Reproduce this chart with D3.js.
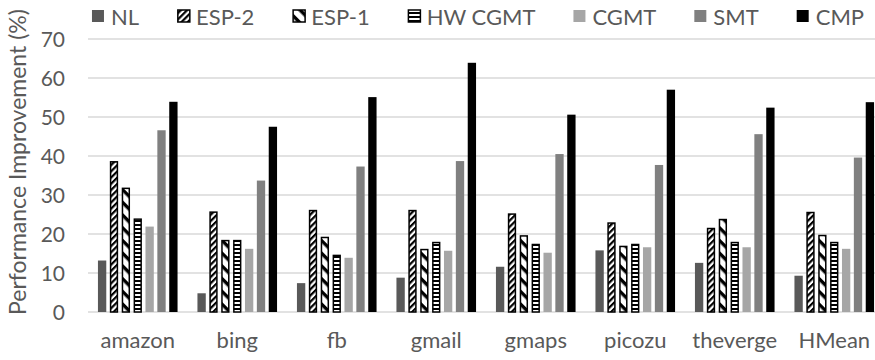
<!DOCTYPE html>
<html>
<head>
<meta charset="utf-8">
<script src="https://cdn.jsdelivr.net/npm/d3@7/dist/d3.min.js"></script>
<style>
  html, body { margin: 0; padding: 0; background: #fff; }
  svg { display: block; }
  text { font-family: Lato, "Open Sans", sans-serif; fill: #595959; }
</style>
</head>
<body>
<svg id="chart" width="875" height="360"></svg>
<script>
const categories = ["amazon", "bing", "fb", "gmail", "gmaps", "picozu", "theverge", "HMean"];
const seriesNames = ["NL", "ESP-2", "ESP-1", "HW CGMT", "CGMT", "SMT", "CMP"];
const NL      = [13.2, 4.8, 7.4, 8.8, 11.6, 15.8, 12.6, 9.3];
const ESP2    = [38.7, 25.8, 26.2, 26.2, 25.3, 23.0, 21.6, 25.7];
const ESP1    = [31.9, 18.5, 19.3, 16.2, 19.7, 17.0, 23.9, 19.8];
const HWCGMT  = [24.0, 18.5, 14.7, 18.0, 17.5, 17.5, 18.0, 18.0];
const CGMT    = [21.9, 16.2, 13.9, 15.7, 15.2, 16.6, 16.6, 16.2];
const SMT     = [46.6, 33.7, 37.3, 38.7, 40.5, 37.7, 45.6, 39.6];
const CMP     = [53.9, 47.5, 55.1, 63.9, 50.6, 57.0, 52.4, 53.8];
const yTicks  = [0, 10, 20, 30, 40, 50, 60, 70];
const yTitle  = "Performance Improvement (%)";

const seriesValues = [NL, ESP2, ESP1, HWCGMT, CGMT, SMT, CMP];
const fills = ["#595959", "url(#p-esp2)", "url(#p-esp1)", "url(#p-hw)", "#a6a6a6", "#808080", "#000000"];
const outlined = [false, true, true, true, false, false, false];

const svg = d3.select("#chart");
const W = 875, H = 360;
const plot = { left: 88, right: 884, top: 39, bottom: 312 };

// patterns
const defs = svg.append("defs");
function stripePattern(id, period, black, angle) {
  const p = defs.append("pattern").attr("id", id)
    .attr("patternUnits", "userSpaceOnUse")
    .attr("width", period).attr("height", period)
    .attr("patternTransform", `rotate(${angle})`);
  p.append("rect").attr("width", period).attr("height", period).attr("fill", "#fff");
  p.append("rect").attr("width", period).attr("height", black).attr("fill", "#000");
}
stripePattern("p-esp2", 4.4, 2.2, -45);
stripePattern("p-esp1", 9, 3.4, 45);
stripePattern("p-hw", 4, 2, 0);

const x0 = d3.scaleBand().domain(categories).range([plot.left, plot.right]).paddingInner(0).paddingOuter(0);
const bw = x0.bandwidth();
const x1 = d3.scaleBand().domain(seriesNames).range([bw * 0.1, bw * 0.9]).paddingInner(0.3).paddingOuter(0);
const y = d3.scaleLinear().domain([0, 70]).range([plot.bottom, plot.top]);

// gridlines
const grid = svg.append("g");
grid.selectAll("line").data(yTicks).join("line")
  .attr("x1", plot.left).attr("x2", W)
  .attr("y1", d => y(d)).attr("y2", d => y(d))
  .attr("stroke", "#d9d9d9").attr("stroke-width", 1.3);

// y axis labels
const yAxis = d3.axisLeft(y).tickValues(yTicks).tickSize(0).tickPadding(0);
const ya = svg.append("g").attr("transform", `translate(${plot.left - 23},0)`).call(yAxis);
ya.select(".domain").remove();
ya.selectAll("text").attr("font-size", 21).attr("font-family", "Lato").attr("fill", "#595959").attr("dy", "0.35em");

// y title
svg.append("text")
  .attr("transform", `translate(26,${162}) rotate(-90)`)
  .attr("text-anchor", "middle")
  .attr("font-size", 23)
  .text(yTitle);

// bars
const groups = svg.append("g").selectAll("g").data(categories).join("g")
  .attr("transform", d => `translate(${x0(d)},0)`);
groups.selectAll("rect")
  .data((c, ci) => seriesNames.map((s, si) => ({ s, si, v: seriesValues[si][ci] })))
  .join("rect")
  .attr("x", d => x1(d.s) + (outlined[d.si] ? 0.75 : 0))
  .attr("width", d => x1.bandwidth() - (outlined[d.si] ? 1.5 : 0))
  .attr("y", d => y(d.v) + (outlined[d.si] ? 0.75 : 0))
  .attr("height", d => y(0) - y(d.v) - (outlined[d.si] ? 0.75 : 0))
  .attr("fill", d => fills[d.si])
  .attr("stroke", d => outlined[d.si] ? "#000" : "none")
  .attr("stroke-width", 1.5);

// x axis labels
const xAxis = d3.axisBottom(x0).tickSize(0).tickPadding(0);
const xa = svg.append("g").attr("transform", `translate(0,${plot.bottom + 20})`).call(xAxis);
xa.select(".domain").remove();
xa.selectAll("text").attr("font-size", 22).attr("font-family", "Lato").attr("fill", "#595959").attr("dy", "0.71em");

// legend
const legend = svg.append("g");
const items = legend.selectAll("g").data(seriesNames).join("g");
items.append("rect").attr("width", 12).attr("height", 12).attr("y", 10)
  .attr("x", (d, i) => outlined[i] ? 0.75 : 0)
  .attr("fill", (d, i) => fills[i])
  .attr("stroke", (d, i) => outlined[i] ? "#000" : "none").attr("stroke-width", 1.5);
items.append("text").attr("x", 19).attr("y", 25).attr("font-size", 22).text(d => d);
let widths = [];
items.each(function () { widths.push(this.querySelector("text").getComputedTextLength() + 19); });
const gap = 38;
const total = d3.sum(widths) + gap * (widths.length - 1);
let cx = 478 - total / 2;
items.attr("transform", (d, i) => { const t = `translate(${cx},0)`; cx += widths[i] + gap; return t; });
</script>
</body>
</html>
